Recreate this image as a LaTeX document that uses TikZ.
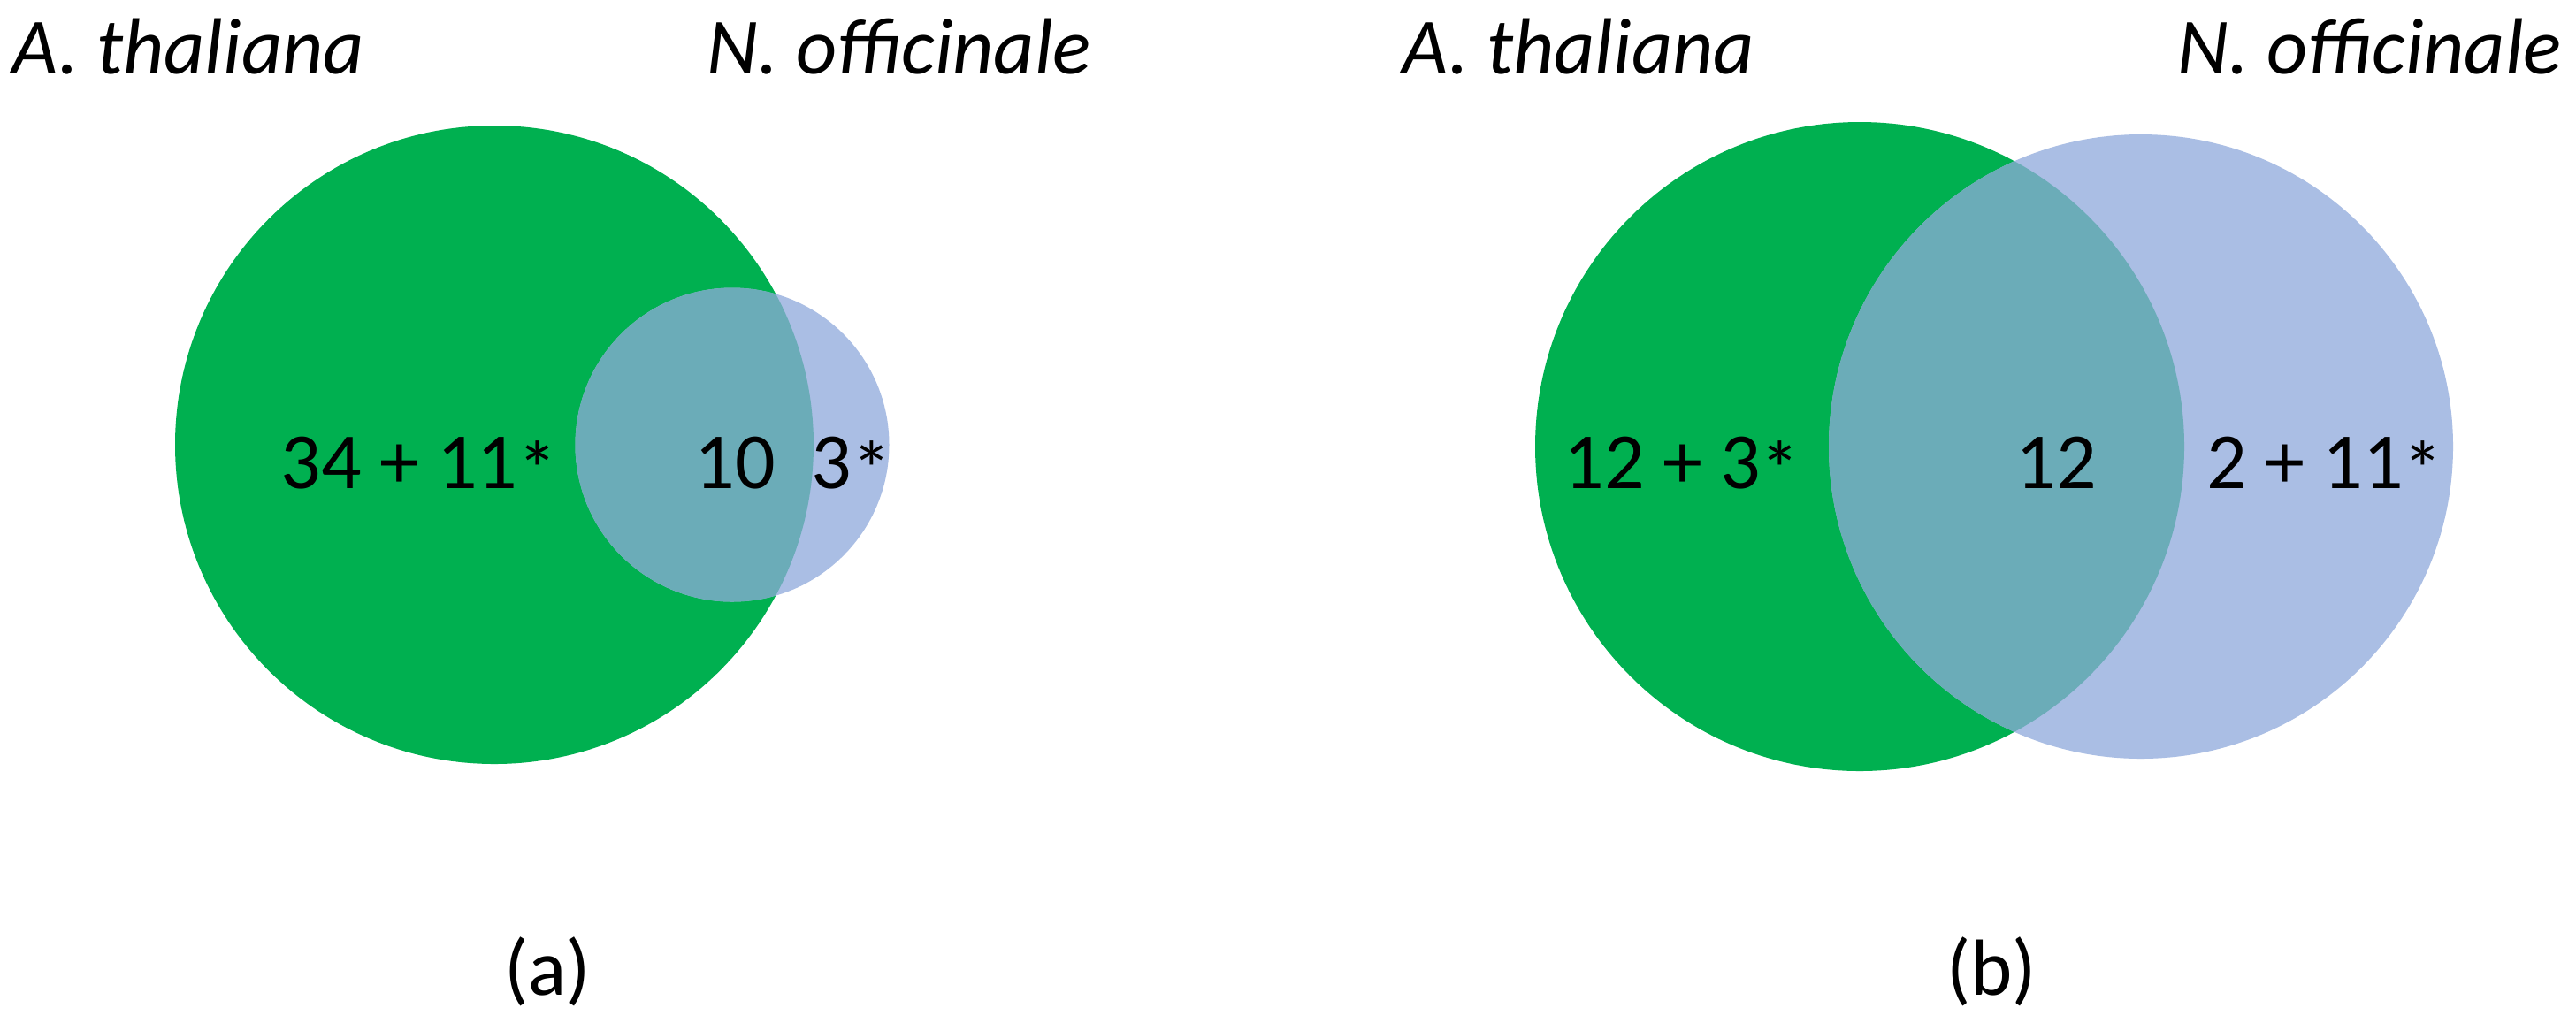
\documentclass[tikz,border=0pt]{standalone}
\usepackage{fontspec}
\setmainfont{Carlito}
\definecolor{vgreen}{RGB}{0,176,80}
\definecolor{vblue}{RGB}{170,190,228}
\definecolor{vover}{RGB}{107,172,184}
\newcommand{\vast}{\raisebox{-0.12em}{*}}
\begin{document}
\begin{tikzpicture}[
  lbl/.style={inner sep=0pt, anchor=base west, font=\fontsize{25.6}{30}\selectfont\itshape},
  num/.style={inner sep=0pt, anchor=base, font=\fontsize{25.6}{30}\selectfont},
  captext/.style={inner sep=0pt, anchor=base, font=\fontsize{25.6}{30}\selectfont}
]
\useasboundingbox[fill=white] (0,0) rectangle (29.13,-11.65);
% (a)
\fill[vgreen] (5.59,-5.03) circle (3.61);
\fill[vblue] (8.28,-5.03) circle (1.775);
\begin{scope}
  \clip (5.59,-5.03) circle (3.61);
  \fill[vover] (8.28,-5.03) circle (1.775);
\end{scope}
% (b)
\fill[vgreen] (21.03,-5.05) circle (3.67);
\fill[vblue] (24.21,-5.05) circle (3.53);
\begin{scope}
  \clip (21.03,-5.05) circle (3.67);
  \fill[vover] (24.21,-5.05) circle (3.53);
\end{scope}
% labels
\node[lbl] (la1) at (0.13,-0.83) {A. thaliana};
\node[lbl] (ln1) at (7.99,-0.83) {N. officinale};
\node[lbl] (la2) at (15.85,-0.83) {A. thaliana};
\node[lbl] (ln2) at (24.62,-0.83) {N. officinale};
% numbers
\node[num] (n1) at (4.74,-5.52) {34 + 11\vast};
\node[num] (n2) at (8.31,-5.52) {10};
\node[num] (n3) at (9.63,-5.52) {3\vast};
\node[num] (n4) at (19.02,-5.52) {12 + 3\vast};
\node[num] (n5) at (23.25,-5.52) {12};
\node[num] (n6) at (26.29,-5.52) {2 + 11\vast};
% captions
\node[captext] (ca) at (6.19,-11.25) {(a)};
\node[captext] (cb) at (22.52,-11.25) {(b)};
\end{tikzpicture}
\end{document}
